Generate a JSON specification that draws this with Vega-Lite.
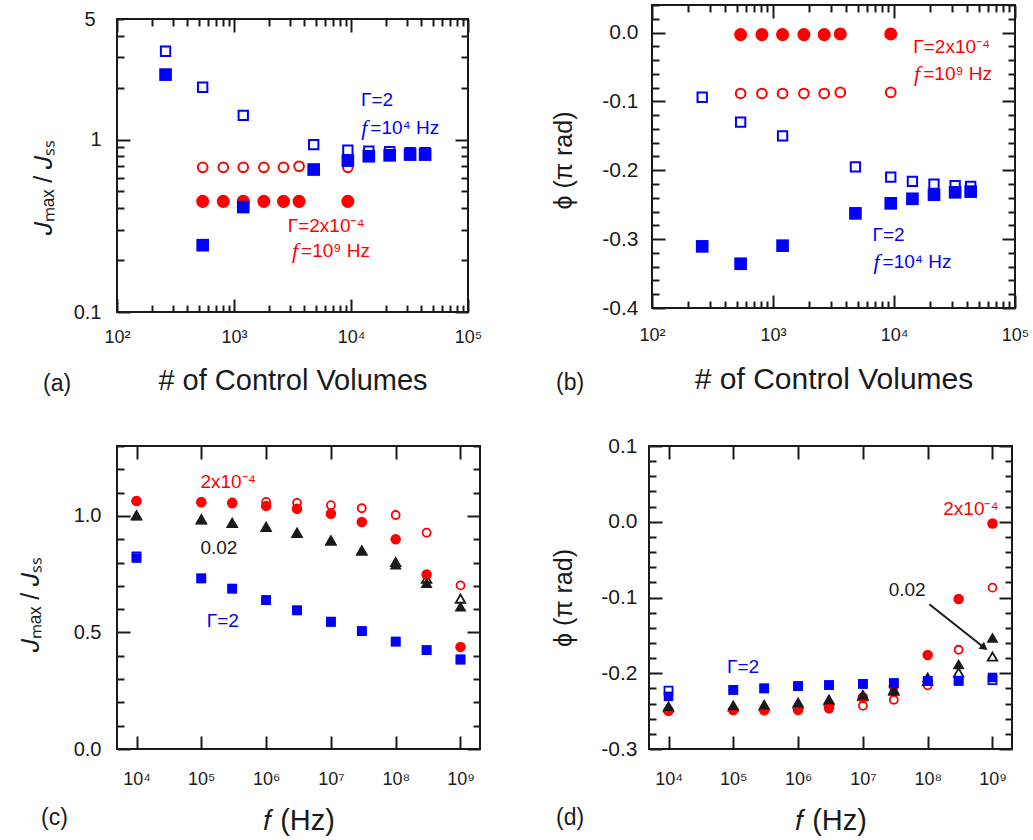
{
  "$schema": "https://vega.github.io/schema/vega-lite/v6.json",
  "padding": {"left": 17, "top": -7, "right": 5, "bottom": 5},
  "config": {
    "font": "Liberation Sans",
    "view": {"stroke": "#1a1a1a", "strokeWidth": 2},
    "axis": {"grid": false, "domain": false, "tickColor": "#1a1a1a", "tickWidth": 2, "labelColor": "#1a1a1a", "labelFont": "Liberation Sans", "titleFont": "Liberation Sans", "titleColor": "#1a1a1a", "titleFontWeight": "normal", "labelFlush": false, "labelOverlap": false},
    "title": {"font": "Liberation Sans", "fontWeight": "normal", "color": "#1a1a1a", "fontSize": 23, "orient": "bottom", "anchor": "start", "frame": "group", "offset": 0},
    "text": {"font": "Liberation Sans", "fontSize": 19}
  },
  "vconcat": [
    {
      "hconcat": [
        {
          "vconcat": [
            {"width": 351, "height": 1, "view": {"stroke": null}, "data": {"values": [{"a": 1}]}, "mark": {"type": "point", "opacity": 0}},
            {
              "width": 351, "height": 293,
              "title": {"text": "(a)", "dx": -74, "dy": -26},
              "data": {"values": [
                {"x": 260, "y": 3.25, "s": "bo"}, {"x": 540, "y": 2.01, "s": "bo"}, {"x": 1200, "y": 1.38, "s": "bo"}, {"x": 4800, "y": 0.935, "s": "bo"}, {"x": 9400, "y": 0.867, "s": "bo"}, {"x": 14200, "y": 0.855, "s": "bo"}, {"x": 21400, "y": 0.85, "s": "bo"}, {"x": 32000, "y": 0.84, "s": "bo"}, {"x": 43000, "y": 0.84, "s": "bo"},
                {"x": 260, "y": 2.38, "s": "bf"}, {"x": 540, "y": 0.244, "s": "bf"}, {"x": 1200, "y": 0.406, "s": "bf"}, {"x": 4800, "y": 0.67, "s": "bf"}, {"x": 9400, "y": 0.755, "s": "bf"}, {"x": 14200, "y": 0.8, "s": "bf"}, {"x": 21400, "y": 0.81, "s": "bf"}, {"x": 32000, "y": 0.818, "s": "bf"}, {"x": 43000, "y": 0.818, "s": "bf"},
                {"x": 540, "y": 0.69, "s": "ro"}, {"x": 810, "y": 0.69, "s": "ro"}, {"x": 1200, "y": 0.69, "s": "ro"}, {"x": 1800, "y": 0.69, "s": "ro"}, {"x": 2650, "y": 0.69, "s": "ro"}, {"x": 3600, "y": 0.7, "s": "ro"}, {"x": 9400, "y": 0.69, "s": "ro"},
                {"x": 540, "y": 0.438, "s": "rf"}, {"x": 810, "y": 0.438, "s": "rf"}, {"x": 1200, "y": 0.438, "s": "rf"}, {"x": 1800, "y": 0.438, "s": "rf"}, {"x": 2650, "y": 0.438, "s": "rf"}, {"x": 3600, "y": 0.438, "s": "rf"}, {"x": 9400, "y": 0.438, "s": "rf"}
              ]},
              "encoding": {
                "x": {"field": "x", "type": "quantitative", "scale": {"type": "log", "domain": [100, 100000], "nice": false}, "axis": null},
                "y": {"field": "y", "type": "quantitative", "scale": {"type": "log", "domain": [0.1, 5], "nice": false}, "axis": null}
              },
              "layer": [
                {
                  "transform": [{"filter": "datum.s=='ro'"}],
                  "mark": {"type": "point", "shape": "circle", "filled": false, "color": "#ff0000", "strokeWidth": 2, "size": 94, "opacity": 1},
                  "encoding": {
                    "x": {"field": "x", "type": "quantitative", "scale": {"type": "log", "domain": [100, 100000], "nice": false},
                      "axis": {"orient": "bottom", "values": [100,200,300,400,500,600,700,800,900,1000,2000,3000,4000,5000,6000,7000,8000,9000,10000,20000,30000,40000,50000,60000,70000,80000,90000,100000],
                        "labelExpr": "datum.value==100?'10²':datum.value==1000?'10³':datum.value==10000?'10⁴':datum.value==100000?'10⁵':''",
                        "tickSize": {"condition": {"test": "datum.value==100||datum.value==1000||datum.value==10000||datum.value==100000", "value": -13}, "value": -7},
                        "labelFontSize": 18, "labelPadding": 29, "title": "# of Control Volumes", "titleFontSize": 29, "titlePadding": 14}},
                    "y": {"field": "y", "type": "quantitative", "scale": {"type": "log", "domain": [0.1, 5], "nice": false},
                      "axis": {"orient": "left", "values": [0.1,0.2,0.3,0.4,0.5,0.6,0.7,0.8,0.9,1,2,3,4,5],
                        "labelExpr": "datum.value==0.1?'0.1':datum.value==1?'1':datum.value==5?'5':''",
                        "tickSize": {"condition": {"test": "datum.value==0.1||datum.value==1", "value": -13}, "value": -7},
                        "labelFontSize": 20, "labelPadding": 29, "title": "𝐽ₘₐₓ / 𝐽ₛₛ", "titleFontSize": 25, "titlePadding": 17, "titleY": 168}}
                  }
                },
                {"transform": [{"filter": "datum.s=='bo'"}], "mark": {"type": "point", "shape": "square", "filled": false, "color": "#0000ff", "strokeWidth": 2, "size": 87, "opacity": 1}},
                {
                  "transform": [{"filter": "datum.s=='rf'"}],
                  "mark": {"type": "point", "shape": "circle", "filled": true, "color": "#ff0000", "size": 170, "opacity": 1},
                  "encoding": {
                    "x": {"field": "x", "type": "quantitative", "scale": {"type": "log", "domain": [100, 100000], "nice": false},
                      "axis": {"orient": "top", "values": [100,200,300,400,500,600,700,800,900,1000,2000,3000,4000,5000,6000,7000,8000,9000,10000,20000,30000,40000,50000,60000,70000,80000,90000,100000],
                        "labels": false, "title": null,
                        "tickSize": {"condition": {"test": "datum.value==100||datum.value==1000||datum.value==10000||datum.value==100000", "value": -13}, "value": -7}}},
                    "y": {"field": "y", "type": "quantitative", "scale": {"type": "log", "domain": [0.1, 5], "nice": false},
                      "axis": {"orient": "right", "values": [0.1,0.2,0.3,0.4,0.5,0.6,0.7,0.8,0.9,1,2,3,4,5], "labels": false, "title": null,
                        "tickSize": {"condition": {"test": "datum.value==0.1||datum.value==1", "value": -13}, "value": -7}}}
                  }
                },
                {"transform": [{"filter": "datum.s=='bf'"}], "mark": {"type": "point", "shape": "square", "filled": true, "color": "#0000ff", "size": 160, "opacity": 1}},
                {"data": {"values": [{"x": 12178, "y": 1.696, "t": "Γ=2"}, {"x": 14620, "y": 1.167, "t": "=10⁴ Hz"}]},
                 "mark": {"type": "text", "align": "left", "baseline": "middle", "color": "#0000ff"}, "encoding": {"text": {"field": "t"}}},
                {"data": {"values": [{"x": 14620, "y": 1.167, "t": "f"}]},
                 "mark": {"type": "text", "align": "right", "baseline": "middle", "dx": -3, "font": "Liberation Serif", "fontStyle": "italic", "fontSize": 22, "color": "#0000ff"}, "encoding": {"text": {"field": "t"}}},
                {"data": {"values": [{"x": 2877, "y": 0.314, "t": "Γ=2x10⁻⁴"}, {"x": 3741, "y": 0.225, "t": "=10⁹ Hz"}]},
                 "mark": {"type": "text", "align": "left", "baseline": "middle", "color": "#ff0000"}, "encoding": {"text": {"field": "t"}}},
                {"data": {"values": [{"x": 3741, "y": 0.225, "t": "f"}]},
                 "mark": {"type": "text", "align": "right", "baseline": "middle", "dx": -3, "font": "Liberation Serif", "fontStyle": "italic", "fontSize": 22, "color": "#ff0000"}, "encoding": {"text": {"field": "t"}}}
              ],
              "resolve": {"axis": {"x": "independent", "y": "independent"}}
            }
          ],
          "spacing": -1
        },
        {
          "width": 363, "height": 303,
          "title": {"text": "(b)", "dx": -96, "dy": -26},
          "data": {"values": [
            {"x": 260, "y": -0.094, "s": "bo"}, {"x": 540, "y": -0.13, "s": "bo"}, {"x": 1200, "y": -0.15, "s": "bo"}, {"x": 4800, "y": -0.195, "s": "bo"}, {"x": 9400, "y": -0.21, "s": "bo"}, {"x": 14200, "y": -0.216, "s": "bo"}, {"x": 21400, "y": -0.22, "s": "bo"}, {"x": 32000, "y": -0.2225, "s": "bo"}, {"x": 43000, "y": -0.2235, "s": "bo"},
            {"x": 260, "y": -0.3105, "s": "bf"}, {"x": 540, "y": -0.3357, "s": "bf"}, {"x": 1200, "y": -0.3095, "s": "bf"}, {"x": 4800, "y": -0.2626, "s": "bf"}, {"x": 9400, "y": -0.248, "s": "bf"}, {"x": 14200, "y": -0.2414, "s": "bf"}, {"x": 21400, "y": -0.2355, "s": "bf"}, {"x": 32000, "y": -0.232, "s": "bf"}, {"x": 43000, "y": -0.231, "s": "bf"},
            {"x": 540, "y": -0.0885, "s": "ro"}, {"x": 810, "y": -0.0885, "s": "ro"}, {"x": 1200, "y": -0.0885, "s": "ro"}, {"x": 1800, "y": -0.0885, "s": "ro"}, {"x": 2650, "y": -0.0885, "s": "ro"}, {"x": 3600, "y": -0.087, "s": "ro"}, {"x": 9400, "y": -0.087, "s": "ro"},
            {"x": 540, "y": -0.003, "s": "rf"}, {"x": 810, "y": -0.003, "s": "rf"}, {"x": 1200, "y": -0.003, "s": "rf"}, {"x": 1800, "y": -0.003, "s": "rf"}, {"x": 2650, "y": -0.003, "s": "rf"}, {"x": 3600, "y": -0.002, "s": "rf"}, {"x": 9400, "y": -0.002, "s": "rf"}
          ]},
          "encoding": {
            "x": {"field": "x", "type": "quantitative", "scale": {"type": "log", "domain": [100, 100000], "nice": false}, "axis": null},
            "y": {"field": "y", "type": "quantitative", "scale": {"domain": [-0.4, 0.04], "nice": false, "zero": false}, "axis": null}
          },
          "layer": [
            {
              "transform": [{"filter": "datum.s=='ro'"}],
              "mark": {"type": "point", "shape": "circle", "filled": false, "color": "#ff0000", "strokeWidth": 2, "size": 94, "opacity": 1},
              "encoding": {
                "x": {"field": "x", "type": "quantitative", "scale": {"type": "log", "domain": [100, 100000], "nice": false},
                  "axis": {"orient": "bottom", "values": [100,200,300,400,500,600,700,800,900,1000,2000,3000,4000,5000,6000,7000,8000,9000,10000,20000,30000,40000,50000,60000,70000,80000,90000,100000],
                    "labelExpr": "datum.value==100?'10²':datum.value==1000?'10³':datum.value==10000?'10⁴':datum.value==100000?'10⁵':''",
                    "tickSize": {"condition": {"test": "datum.value==100||datum.value==1000||datum.value==10000||datum.value==100000", "value": -13}, "value": -7},
                    "labelFontSize": 18, "labelPadding": 31, "title": "# of Control Volumes", "titleFontSize": 30, "titlePadding": 14}},
                "y": {"field": "y", "type": "quantitative", "scale": {"domain": [-0.4, 0.04], "nice": false, "zero": false},
                  "axis": {"orient": "left", "values": [-0.4,-0.38,-0.36,-0.34,-0.32,-0.3,-0.28,-0.26,-0.24,-0.22,-0.2,-0.18,-0.16,-0.14,-0.12,-0.1,-0.08,-0.06,-0.04,-0.02,0,0.02,0.04],
                    "labelExpr": "datum.value==0?'0.0':datum.value==-0.1?'-0.1':datum.value==-0.2?'-0.2':datum.value==-0.3?'-0.3':datum.value==-0.4?'-0.4':''",
                    "tickSize": {"condition": {"test": "datum.value==0||datum.value==-0.1||datum.value==-0.2||datum.value==-0.3||datum.value==-0.4", "value": -13}, "value": -7},
                    "labelFontSize": 21, "labelPadding": 27, "title": "ϕ (π rad)", "titleFontSize": 25, "titlePadding": 25, "titleY": 155}}
              }
            },
            {"transform": [{"filter": "datum.s=='bo'"}], "mark": {"type": "point", "shape": "square", "filled": false, "color": "#0000ff", "strokeWidth": 2, "size": 87, "opacity": 1}},
            {
              "transform": [{"filter": "datum.s=='rf'"}],
              "mark": {"type": "point", "shape": "circle", "filled": true, "color": "#ff0000", "size": 170, "opacity": 1},
              "encoding": {
                "x": {"field": "x", "type": "quantitative", "scale": {"type": "log", "domain": [100, 100000], "nice": false},
                  "axis": {"orient": "top", "values": [100,200,300,400,500,600,700,800,900,1000,2000,3000,4000,5000,6000,7000,8000,9000,10000,20000,30000,40000,50000,60000,70000,80000,90000,100000],
                    "labels": false, "title": null,
                    "tickSize": {"condition": {"test": "datum.value==100||datum.value==1000||datum.value==10000||datum.value==100000", "value": -13}, "value": -7}}},
                "y": {"field": "y", "type": "quantitative", "scale": {"domain": [-0.4, 0.04], "nice": false, "zero": false},
                  "axis": {"orient": "right", "values": [-0.4,-0.38,-0.36,-0.34,-0.32,-0.3,-0.28,-0.26,-0.24,-0.22,-0.2,-0.18,-0.16,-0.14,-0.12,-0.1,-0.08,-0.06,-0.04,-0.02,0,0.02,0.04],
                    "labels": false, "title": null,
                    "tickSize": {"condition": {"test": "datum.value==0||datum.value==-0.1||datum.value==-0.2||datum.value==-0.3||datum.value==-0.4", "value": -13}, "value": -7}}}
              }
            },
            {"transform": [{"filter": "datum.s=='bf'"}], "mark": {"type": "point", "shape": "square", "filled": true, "color": "#0000ff", "size": 160, "opacity": 1}},
            {"data": {"values": [{"x": 6650, "y": -0.2946, "t": "Γ=2"}, {"x": 8050, "y": -0.3338, "t": "=10⁴ Hz"}]},
             "mark": {"type": "text", "align": "left", "baseline": "middle", "color": "#0000ff"}, "encoding": {"text": {"field": "t"}}},
            {"data": {"values": [{"x": 8050, "y": -0.3338, "t": "f"}]},
             "mark": {"type": "text", "align": "right", "baseline": "middle", "dx": -3, "font": "Liberation Serif", "fontStyle": "italic", "fontSize": 22, "color": "#0000ff"}, "encoding": {"text": {"field": "t"}}},
            {"data": {"values": [{"x": 14425, "y": -0.0203, "t": "Γ=2x10⁻⁴"}, {"x": 17440, "y": -0.0599, "t": "=10⁹ Hz"}]},
             "mark": {"type": "text", "align": "left", "baseline": "middle", "color": "#ff0000"}, "encoding": {"text": {"field": "t"}}},
            {"data": {"values": [{"x": 17440, "y": -0.0599, "t": "f"}]},
             "mark": {"type": "text", "align": "right", "baseline": "middle", "dx": -3, "font": "Liberation Serif", "fontStyle": "italic", "fontSize": 22, "color": "#ff0000"}, "encoding": {"text": {"field": "t"}}}
          ],
          "resolve": {"axis": {"x": "independent", "y": "independent"}}
        }
      ],
      "spacing": 67
    },
    {
      "hconcat": [
        {
          "width": 363, "height": 303,
          "title": {"text": "(c)", "dx": -76, "dy": -32},
          "data": {"values": [
            {"x": 10000, "y": 1.064, "s": "ro"}, {"x": 100000, "y": 1.06, "s": "ro"}, {"x": 300000, "y": 1.058, "s": "ro"}, {"x": 1000000, "y": 1.06, "s": "ro"}, {"x": 3000000, "y": 1.056, "s": "ro"}, {"x": 10000000, "y": 1.046, "s": "ro"}, {"x": 30000000, "y": 1.033, "s": "ro"}, {"x": 100000000, "y": 1.004, "s": "ro"}, {"x": 300000000, "y": 0.928, "s": "ro"}, {"x": 1000000000, "y": 0.702, "s": "ro"},
            {"x": 10000, "y": 1.003, "s": "ko"}, {"x": 100000, "y": 0.986, "s": "ko"}, {"x": 300000, "y": 0.97, "s": "ko"}, {"x": 1000000, "y": 0.953, "s": "ko"}, {"x": 3000000, "y": 0.928, "s": "ko"}, {"x": 10000000, "y": 0.895, "s": "ko"}, {"x": 30000000, "y": 0.852, "s": "ko"}, {"x": 100000000, "y": 0.802, "s": "ko"}, {"x": 300000000, "y": 0.731, "s": "ko"}, {"x": 1000000000, "y": 0.645, "s": "ko"},
            {"x": 10000, "y": 0.826, "s": "bo"}, {"x": 100000, "y": 0.732, "s": "bo"}, {"x": 300000, "y": 0.688, "s": "bo"}, {"x": 1000000, "y": 0.639, "s": "bo"}, {"x": 3000000, "y": 0.595, "s": "bo"}, {"x": 10000000, "y": 0.546, "s": "bo"}, {"x": 30000000, "y": 0.506, "s": "bo"}, {"x": 100000000, "y": 0.461, "s": "bo"}, {"x": 300000000, "y": 0.424, "s": "bo"}, {"x": 1000000000, "y": 0.384, "s": "bo"},
            {"x": 10000, "y": 1.064, "s": "rf"}, {"x": 100000, "y": 1.059, "s": "rf"}, {"x": 300000, "y": 1.054, "s": "rf"}, {"x": 1000000, "y": 1.043, "s": "rf"}, {"x": 3000000, "y": 1.031, "s": "rf"}, {"x": 10000000, "y": 1.009, "s": "rf"}, {"x": 30000000, "y": 0.974, "s": "rf"}, {"x": 100000000, "y": 0.9, "s": "rf"}, {"x": 300000000, "y": 0.749, "s": "rf"}, {"x": 1000000000, "y": 0.438, "s": "rf"},
            {"x": 10000, "y": 1.003, "s": "kf"}, {"x": 100000, "y": 0.986, "s": "kf"}, {"x": 300000, "y": 0.97, "s": "kf"}, {"x": 1000000, "y": 0.953, "s": "kf"}, {"x": 3000000, "y": 0.928, "s": "kf"}, {"x": 10000000, "y": 0.895, "s": "kf"}, {"x": 30000000, "y": 0.852, "s": "kf"}, {"x": 100000000, "y": 0.792, "s": "kf"}, {"x": 300000000, "y": 0.713, "s": "kf"}, {"x": 1000000000, "y": 0.612, "s": "kf"},
            {"x": 10000, "y": 0.819, "s": "bf"}, {"x": 100000, "y": 0.732, "s": "bf"}, {"x": 300000, "y": 0.688, "s": "bf"}, {"x": 1000000, "y": 0.639, "s": "bf"}, {"x": 3000000, "y": 0.595, "s": "bf"}, {"x": 10000000, "y": 0.546, "s": "bf"}, {"x": 30000000, "y": 0.506, "s": "bf"}, {"x": 100000000, "y": 0.461, "s": "bf"}, {"x": 300000000, "y": 0.424, "s": "bf"}, {"x": 1000000000, "y": 0.384, "s": "bf"}
          ]},
          "encoding": {
            "x": {"field": "x", "type": "quantitative", "scale": {"type": "log", "domain": [5000, 2000000000], "nice": false}, "axis": null},
            "y": {"field": "y", "type": "quantitative", "scale": {"domain": [0, 1.3], "nice": false}, "axis": null}
          },
          "layer": [
            {
              "transform": [{"filter": "datum.s=='ro'"}],
              "mark": {"type": "point", "shape": "circle", "filled": false, "color": "#ff0000", "strokeWidth": 1.8, "size": 64, "opacity": 1},
              "encoding": {
                "x": {"field": "x", "type": "quantitative", "scale": {"type": "log", "domain": [5000, 2000000000], "nice": false},
                  "axis": {"orient": "bottom", "values": [10000,100000,1000000,10000000,100000000,1000000000],
                    "labelExpr": "datum.value==10000?'10⁴':datum.value==100000?'10⁵':datum.value==1000000?'10⁶':datum.value==10000000?'10⁷':datum.value==100000000?'10⁸':'10⁹'",
                    "tickSize": -13, "labelFontSize": 18, "labelPadding": 34, "title": "𝑓 (Hz)", "titleFontSize": 29, "titlePadding": 18}},
                "y": {"field": "y", "type": "quantitative", "scale": {"domain": [0, 1.3], "nice": false},
                  "axis": {"orient": "left", "values": [0,0.1,0.2,0.3,0.4,0.5,0.6,0.7,0.8,0.9,1,1.1,1.2,1.3],
                    "labelExpr": "datum.value==0?'0.0':datum.value==0.5?'0.5':datum.value==1?'1.0':''",
                    "tickSize": {"condition": {"test": "datum.value==0||datum.value==0.5||datum.value==1", "value": -13}, "value": -7},
                    "labelFontSize": 20, "labelPadding": 29, "title": "𝐽ₘₐₓ / 𝐽ₛₛ", "titleFontSize": 25, "titlePadding": 30, "titleY": 158}}
              }
            },
            {"transform": [{"filter": "datum.s=='ko'"}], "mark": {"type": "point", "shape": "triangle-up", "filled": false, "color": "#1a1a1a", "strokeWidth": 1.8, "size": 90, "opacity": 1}},
            {"transform": [{"filter": "datum.s=='bo'"}], "mark": {"type": "point", "shape": "square", "filled": false, "color": "#0000ff", "strokeWidth": 1.8, "size": 64, "opacity": 1}},
            {
              "transform": [{"filter": "datum.s=='rf'"}],
              "mark": {"type": "point", "shape": "circle", "filled": true, "color": "#ff0000", "size": 110, "opacity": 1},
              "encoding": {
                "x": {"field": "x", "type": "quantitative", "scale": {"type": "log", "domain": [5000, 2000000000], "nice": false},
                  "axis": {"orient": "top", "values": [10000,100000,1000000,10000000,100000000,1000000000], "labels": false, "title": null, "tickSize": -13}},
                "y": {"field": "y", "type": "quantitative", "scale": {"domain": [0, 1.3], "nice": false},
                  "axis": {"orient": "right", "values": [0,0.1,0.2,0.3,0.4,0.5,0.6,0.7,0.8,0.9,1,1.1,1.2,1.3], "labels": false, "title": null,
                    "tickSize": {"condition": {"test": "datum.value==0||datum.value==0.5||datum.value==1", "value": -13}, "value": -7}}}
              }
            },
            {"transform": [{"filter": "datum.s=='kf'"}], "mark": {"type": "point", "shape": "triangle-up", "filled": true, "color": "#1a1a1a", "size": 144, "opacity": 1}},
            {"transform": [{"filter": "datum.s=='bf'"}], "mark": {"type": "point", "shape": "square", "filled": true, "color": "#0000ff", "size": 90, "opacity": 1}},
            {"data": {"values": [{"x": 97000, "y": 1.146, "t": "2x10⁻⁴"}]},
             "mark": {"type": "text", "align": "left", "baseline": "middle", "color": "#ff0000"}, "encoding": {"text": {"field": "t"}}},
            {"data": {"values": [{"x": 97000, "y": 0.864, "t": "0.02"}]},
             "mark": {"type": "text", "align": "left", "baseline": "middle", "color": "#1a1a1a"}, "encoding": {"text": {"field": "t"}}},
            {"data": {"values": [{"x": 121000, "y": 0.55, "t": "Γ=2"}]},
             "mark": {"type": "text", "align": "left", "baseline": "middle", "color": "#0000ff"}, "encoding": {"text": {"field": "t"}}}
          ],
          "resolve": {"axis": {"x": "independent", "y": "independent"}}
        },
        {
          "width": 363, "height": 303,
          "title": {"text": "(d)", "dx": -93, "dy": -32},
          "data": {"values": [
            {"x": 10000, "y": -0.2495, "s": "ro"}, {"x": 100000, "y": -0.249, "s": "ro"}, {"x": 300000, "y": -0.249, "s": "ro"}, {"x": 1000000, "y": -0.249, "s": "ro"}, {"x": 3000000, "y": -0.247, "s": "ro"}, {"x": 10000000, "y": -0.243, "s": "ro"}, {"x": 30000000, "y": -0.235, "s": "ro"}, {"x": 100000000, "y": -0.216, "s": "ro"}, {"x": 300000000, "y": -0.169, "s": "ro"}, {"x": 1000000000, "y": -0.087, "s": "ro"},
            {"x": 10000, "y": -0.245, "s": "ko"}, {"x": 100000, "y": -0.244, "s": "ko"}, {"x": 300000, "y": -0.243, "s": "ko"}, {"x": 1000000, "y": -0.24, "s": "ko"}, {"x": 3000000, "y": -0.236, "s": "ko"}, {"x": 10000000, "y": -0.23, "s": "ko"}, {"x": 30000000, "y": -0.223, "s": "ko"}, {"x": 100000000, "y": -0.21, "s": "ko"}, {"x": 300000000, "y": -0.199, "s": "ko"}, {"x": 1000000000, "y": -0.178, "s": "ko"},
            {"x": 10000, "y": -0.223, "s": "bo"}, {"x": 100000, "y": -0.222, "s": "bo"}, {"x": 300000, "y": -0.22, "s": "bo"}, {"x": 1000000, "y": -0.217, "s": "bo"}, {"x": 3000000, "y": -0.2156, "s": "bo"}, {"x": 10000000, "y": -0.214, "s": "bo"}, {"x": 30000000, "y": -0.213, "s": "bo"}, {"x": 100000000, "y": -0.21, "s": "bo"}, {"x": 300000000, "y": -0.21, "s": "bo"}, {"x": 1000000000, "y": -0.209, "s": "bo"},
            {"x": 10000, "y": -0.2495, "s": "rf"}, {"x": 100000, "y": -0.2486, "s": "rf"}, {"x": 300000, "y": -0.249, "s": "rf"}, {"x": 1000000, "y": -0.248, "s": "rf"}, {"x": 3000000, "y": -0.245, "s": "rf"}, {"x": 10000000, "y": -0.232, "s": "rf"}, {"x": 30000000, "y": -0.217, "s": "rf"}, {"x": 100000000, "y": -0.176, "s": "rf"}, {"x": 300000000, "y": -0.102, "s": "rf"}, {"x": 1000000000, "y": -0.0024, "s": "rf"},
            {"x": 10000, "y": -0.243, "s": "kf"}, {"x": 100000, "y": -0.242, "s": "kf"}, {"x": 300000, "y": -0.241, "s": "kf"}, {"x": 1000000, "y": -0.238, "s": "kf"}, {"x": 3000000, "y": -0.234, "s": "kf"}, {"x": 10000000, "y": -0.228, "s": "kf"}, {"x": 30000000, "y": -0.221, "s": "kf"}, {"x": 100000000, "y": -0.205, "s": "kf"}, {"x": 300000000, "y": -0.188, "s": "kf"}, {"x": 1000000000, "y": -0.153, "s": "kf"},
            {"x": 10000, "y": -0.2305, "s": "bf"}, {"x": 100000, "y": -0.222, "s": "bf"}, {"x": 300000, "y": -0.22, "s": "bf"}, {"x": 1000000, "y": -0.217, "s": "bf"}, {"x": 3000000, "y": -0.2156, "s": "bf"}, {"x": 10000000, "y": -0.214, "s": "bf"}, {"x": 30000000, "y": -0.213, "s": "bf"}, {"x": 100000000, "y": -0.21, "s": "bf"}, {"x": 300000000, "y": -0.21, "s": "bf"}, {"x": 1000000000, "y": -0.2055, "s": "bf"}
          ]},
          "encoding": {
            "x": {"field": "x", "type": "quantitative", "scale": {"type": "log", "domain": [5000, 2000000000], "nice": false}, "axis": null},
            "y": {"field": "y", "type": "quantitative", "scale": {"domain": [-0.3, 0.1], "nice": false, "zero": false}, "axis": null}
          },
          "layer": [
            {
              "transform": [{"filter": "datum.s=='ro'"}],
              "mark": {"type": "point", "shape": "circle", "filled": false, "color": "#ff0000", "strokeWidth": 1.8, "size": 64, "opacity": 1},
              "encoding": {
                "x": {"field": "x", "type": "quantitative", "scale": {"type": "log", "domain": [5000, 2000000000], "nice": false},
                  "axis": {"orient": "bottom", "values": [10000,100000,1000000,10000000,100000000,1000000000],
                    "labelExpr": "datum.value==10000?'10⁴':datum.value==100000?'10⁵':datum.value==1000000?'10⁶':datum.value==10000000?'10⁷':datum.value==100000000?'10⁸':'10⁹'",
                    "tickSize": -13, "labelFontSize": 18, "labelPadding": 34, "title": "𝑓 (Hz)", "titleFontSize": 29, "titlePadding": 18}},
                "y": {"field": "y", "type": "quantitative", "scale": {"domain": [-0.3, 0.1], "nice": false, "zero": false},
                  "axis": {"orient": "left", "values": [-0.3,-0.28,-0.26,-0.24,-0.22,-0.2,-0.18,-0.16,-0.14,-0.12,-0.1,-0.08,-0.06,-0.04,-0.02,0,0.02,0.04,0.06,0.08,0.1],
                    "labelExpr": "datum.value==0.1?'0.1':datum.value==0?'0.0':datum.value==-0.1?'-0.1':datum.value==-0.2?'-0.2':datum.value==-0.3?'-0.3':''",
                    "tickSize": {"condition": {"test": "datum.value==0.1||datum.value==0||datum.value==-0.1||datum.value==-0.2||datum.value==-0.3", "value": -13}, "value": -7},
                    "labelFontSize": 21, "labelPadding": 25, "title": "ϕ (π rad)", "titleFontSize": 25, "titlePadding": 24}}
              }
            },
            {"transform": [{"filter": "datum.s=='ko'"}], "mark": {"type": "point", "shape": "triangle-up", "filled": false, "color": "#1a1a1a", "strokeWidth": 1.8, "size": 90, "opacity": 1}},
            {"transform": [{"filter": "datum.s=='bo'"}], "mark": {"type": "point", "shape": "square", "filled": false, "color": "#0000ff", "strokeWidth": 1.8, "size": 64, "opacity": 1}},
            {
              "transform": [{"filter": "datum.s=='rf'"}],
              "mark": {"type": "point", "shape": "circle", "filled": true, "color": "#ff0000", "size": 110, "opacity": 1},
              "encoding": {
                "x": {"field": "x", "type": "quantitative", "scale": {"type": "log", "domain": [5000, 2000000000], "nice": false},
                  "axis": {"orient": "top", "values": [10000,100000,1000000,10000000,100000000,1000000000], "labels": false, "title": null, "tickSize": -13}},
                "y": {"field": "y", "type": "quantitative", "scale": {"domain": [-0.3, 0.1], "nice": false, "zero": false},
                  "axis": {"orient": "right", "values": [-0.3,-0.28,-0.26,-0.24,-0.22,-0.2,-0.18,-0.16,-0.14,-0.12,-0.1,-0.08,-0.06,-0.04,-0.02,0,0.02,0.04,0.06,0.08,0.1],
                    "labels": false, "title": null,
                    "tickSize": {"condition": {"test": "datum.value==0.1||datum.value==0||datum.value==-0.1||datum.value==-0.2||datum.value==-0.3", "value": -13}, "value": -7}}}
              }
            },
            {"transform": [{"filter": "datum.s=='kf'"}], "mark": {"type": "point", "shape": "triangle-up", "filled": true, "color": "#1a1a1a", "size": 144, "opacity": 1}},
            {"transform": [{"filter": "datum.s=='bf'"}], "mark": {"type": "point", "shape": "square", "filled": true, "color": "#0000ff", "size": 90, "opacity": 1}},
            {"data": {"values": [{"x": 105800000, "y": -0.1088, "x2": 748000000, "y2": -0.1663}]},
             "mark": {"type": "rule", "color": "#1a1a1a", "strokeWidth": 2},
             "encoding": {"x2": {"field": "x2"}, "y2": {"field": "y2"}}},
            {"data": {"values": [{"x": 748000000, "y": -0.1663}]},
             "mark": {"type": "point", "shape": "triangle-up", "filled": true, "color": "#1a1a1a", "size": 80, "angle": 128, "opacity": 1}},
            {"data": {"values": [{"x": 174000000, "y": 0.0165, "t": "2x10⁻⁴"}]},
             "mark": {"type": "text", "align": "left", "baseline": "middle", "color": "#ff0000"}, "encoding": {"text": {"field": "t"}}},
            {"data": {"values": [{"x": 25000000, "y": -0.0899, "t": "0.02"}]},
             "mark": {"type": "text", "align": "left", "baseline": "middle", "color": "#1a1a1a"}, "encoding": {"text": {"field": "t"}}},
            {"data": {"values": [{"x": 79900, "y": -0.1914, "t": "Γ=2"}]},
             "mark": {"type": "text", "align": "left", "baseline": "middle", "color": "#0000ff"}, "encoding": {"text": {"field": "t"}}}
          ],
          "resolve": {"axis": {"x": "independent", "y": "independent"}}
        }
      ],
      "spacing": 68
    }
  ],
  "spacing": 37
}
